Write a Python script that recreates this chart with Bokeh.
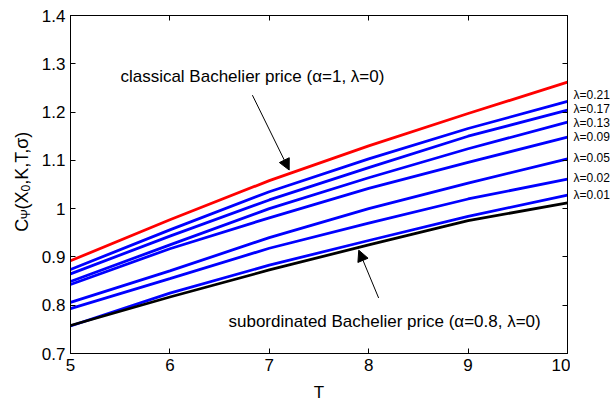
import math
from bokeh.plotting import figure
from bokeh.models import Range1d, FixedTicker, LinearAxis, Label, Arrow, NormalHead
from bokeh.layouts import row
from bokeh.core.properties import value
from bokeh.embed import file_html
from bokeh.resources import INLINE

# ---- data ----
T = [5, 6, 7, 8, 9, 10]
classical = [0.892, 0.977, 1.058, 1.130, 1.197, 1.262]          # alpha=1, lambda=0
subordinated = [0.758, 0.817, 0.873, 0.925, 0.975, 1.012]       # alpha=0.8, lambda=0
lambdas = ["0.21", "0.17", "0.13", "0.09", "0.05", "0.02", "0.01"]
lambda_curves = [
    [0.874, 0.956, 1.035, 1.103, 1.166, 1.222],
    [0.865, 0.943, 1.018, 1.085, 1.150, 1.204],
    [0.849, 0.925, 1.000, 1.064, 1.124, 1.179],
    [0.843, 0.917, 0.981, 1.042, 1.096, 1.148],
    [0.806, 0.871, 0.940, 1.000, 1.053, 1.103],
    [0.793, 0.855, 0.918, 0.970, 1.020, 1.061],
    [0.757, 0.825, 0.883, 0.934, 0.984, 1.028],
]
x_ticks = [5, 6, 7, 8, 9, 10]
y_ticks = [0.7, 0.8, 0.9, 1.0, 1.1, 1.2, 1.3, 1.4]

# ---- layout / styling ----
FONT = "Liberation Sans"
lambda_label_y = [1.235, 1.206, 1.177, 1.148, 1.105, 1.064, 1.028]
TOP, BOTTOM = 15, 50
H = 404
yr = Range1d(0.7, 1.4)

common = dict(height=H, output_backend="svg", toolbar_location=None, y_range=yr,
              min_border_top=TOP, min_border_bottom=BOTTOM)

# main plot
p = figure(width=534, x_range=Range1d(5, 10), min_border_left=34, min_border_right=3, **common)
p.background_fill_color = "white"
p.border_fill_color = "white"
p.outline_line_color = "black"
p.outline_line_width = 1
p.grid.visible = False

for ax in (p.xaxis[0], p.yaxis[0]):
    ax.major_tick_in = 5
    ax.major_tick_out = 0
    ax.minor_tick_in = 0
    ax.minor_tick_out = 0
    ax.axis_line_color = "black"
    ax.major_tick_line_color = "black"
    ax.major_label_text_font = FONT
    ax.major_label_text_font_size = "17px"
    ax.major_label_text_color = "black"
xa = p.xaxis[0]
xa.ticker = FixedTicker(ticks=x_ticks)
xa.major_label_standoff = 5
xa.axis_label = "T"
xa.axis_label_text_font = FONT
xa.axis_label_text_font_size = "17px"
xa.axis_label_text_font_style = "normal"
xa.axis_label_text_color = "black"
xa.axis_label_standoff = 9
p.yaxis[0].ticker = FixedTicker(ticks=y_ticks)
p.yaxis[0].major_label_overrides = {1.0: "1"}
p.yaxis[0].major_label_standoff = 5

# mirrored tick axes (ticks only)
ra = LinearAxis(ticker=FixedTicker(ticks=y_ticks), major_tick_in=5, major_tick_out=0,
                minor_tick_in=0, minor_tick_out=0, major_label_standoff=0,
                major_label_overrides={t: "" for t in y_ticks}, axis_line_color="black")
ta = LinearAxis(ticker=FixedTicker(ticks=x_ticks), major_tick_in=5, major_tick_out=0,
                minor_tick_in=0, minor_tick_out=0, major_label_standoff=0,
                major_label_overrides={t: "" for t in x_ticks}, axis_line_color="black")
p.add_layout(ra, "right")
p.add_layout(ta, "above")

LW = 2.8
for vals in lambda_curves:
    p.line(T, vals, line_color="#0000ff", line_width=LW)
p.line(T, subordinated, line_color="black", line_width=LW)
p.line(T, classical, line_color="#ff0000", line_width=LW)

# annotations
p.add_layout(Label(x=6.83, y=1.274, text="classical Bachelier price (\u03b1=1, \u03bb=0)",
                   text_font=FONT, text_font_size="17px", text_align="center",
                   text_baseline="middle", text_color="black"))
p.add_layout(Label(x=8.16, y=0.766, text="subordinated Bachelier price (\u03b1=0.8, \u03bb=0)",
                   text_font=FONT, text_font_size="17px", text_align="center",
                   text_baseline="middle", text_color="black"))
p.add_layout(Arrow(end=NormalHead(size=11, fill_color="black", line_color="black"),
                   x_start=6.83, y_start=1.235, x_end=7.20, y_end=1.080,
                   line_color="black", line_width=1))
p.add_layout(Arrow(end=NormalHead(size=11, fill_color="black", line_color="black"),
                   x_start=8.10, y_start=0.815, x_end=7.90, y_end=0.914,
                   line_color="black", line_width=1))

# right strip with lambda labels (shares the y range)
pr = figure(width=40, x_range=Range1d(0, 40), min_border_left=0, min_border_right=0, **common)
pr.axis.visible = False
pr.grid.visible = False
pr.outline_line_color = None
pr.text(x=[3] * len(lambdas), y=lambda_label_y, text=["\u03bb=" + l for l in lambdas],
        text_font=value(FONT), text_font_size="12px", text_baseline="middle",
        text_align="left", text_color="black")

# left strip with the rotated y-axis label C_Psi(X_0,K,T,sigma)
pl = figure(width=36, x_range=Range1d(0, 36), min_border_left=0, min_border_right=0, **common)
pl.axis.visible = False
pl.grid.visible = False
pl.outline_line_color = None
px_per_unit = (H - TOP - BOTTOM) / 0.7
y0 = 0.952
pieces = [("C", 18, 0, 12.6), ("\u03a8", 12, 4, 9.8), ("(X", 18, 0, 18.0),
          ("0", 12, 4, 6.7), (",K,T,\u03c3)", 18, 0, 55.0)]
cum = 0.0
for txt, fs, shift, w in pieces:
    pl.text(x=[21 + shift], y=[y0 + cum / px_per_unit], text=[txt], text_font=value(FONT),
            text_font_size=f"{fs}px", angle=math.pi / 2, text_align="left",
            text_baseline="alphabetic", text_color="black")
    cum += w

layout = row(pl, p, pr)
open("out.html", "w").write(file_html(layout, INLINE))
